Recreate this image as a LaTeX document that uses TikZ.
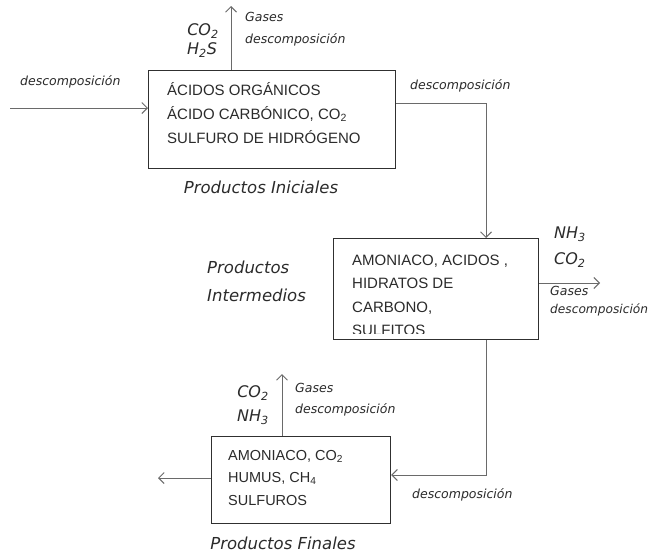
\documentclass[tikz,border=0pt]{standalone}
\usepackage{fontspec}
\setmainfont{Liberation Sans}
\newfontfamily\verd{DejaVu Sans}
\usetikzlibrary{arrows.meta}
\definecolor{txt}{HTML}{2B2B2B}
\definecolor{boxc}{HTML}{303030}
\definecolor{arrc}{HTML}{6A6A6A}
\begin{document}
\begin{tikzpicture}[x=1pt,y=-1pt,
  box/.style={draw=boxc, line width=1.2pt, inner sep=0pt, anchor=north west},
  boxtext/.style={anchor=base west, inner sep=0pt, text=txt, font=\fontsize{15}{18}\selectfont},
  arr/.style={draw=arrc, line width=1pt, -{Straight Barb[length=5.5pt,width=11pt,line width=1pt]}},
  small/.style={anchor=west, inner sep=0pt, text=txt, font=\verd\itshape\fontsize{12.5}{14}\selectfont},
  chem/.style={inner sep=0pt, text=txt, font=\verd\itshape\fontsize{16}{18}\selectfont},
  stage/.style={inner sep=0pt, text=txt, font=\verd\itshape\fontsize{16.5}{19}\selectfont}]
\useasboundingbox (0,0) rectangle (650,552);
\fill[white] (0,0) rectangle (650,552);

% boxes
\node[box, minimum width=247pt, minimum height=98pt] (b1) at (148,70) {};
\node[box, minimum width=205pt, minimum height=101pt] (b2) at (333,238) {};
\node[box, minimum width=179pt, minimum height=87pt] (b3) at (211,436) {};

% box 1 text
\node[boxtext] (b1a) at (167,95) {ÁCIDOS ORGÁNICOS};
\node[boxtext] (b1b) at (167,119) {ÁCIDO CARBÓNICO, CO\textsubscript{2}};
\node[boxtext] (b1c) at (167,143) {SULFURO DE HIDRÓGENO};

% box 2 text
\node[boxtext] (b2a) at (352,265) {AMONIACO, ACIDOS ,};
\node[boxtext] (b2b) at (352,288) {HIDRATOS DE};
\node[boxtext] (b2c) at (352,312) {CARBONO,};
\begin{scope}
  \clip (334,318) rectangle (537,333.5);
  \node[boxtext] (b2d) at (352,335.5) {SULFITOS};
\end{scope}

% box 3 text
\node[boxtext, font=\fontsize{14.5}{18}\selectfont] (b3a) at (228,460) {AMONIACO, CO\textsubscript{2}};
\node[boxtext, font=\fontsize{14.5}{18}\selectfont] (b3b) at (228,482) {HUMUS, CH\textsubscript{4}};
\node[boxtext, font=\fontsize{14.5}{18}\selectfont] (b3c) at (228,505) {SULFUROS};

% connectors
\coordinate (in0) at (10,108);
\draw[arr] (in0) -- (in0 -| b1.west);
\coordinate (up1) at (231,6);
\draw[arr] (up1 |- b1.north) -- (up1);
\coordinate (c1) at (486,103);
\draw[arr] (c1 -| b1.east) -- (c1) -- (c1 |- b2.north);
\coordinate (g2) at (600,283);
\draw[arr] (g2 -| b2.east) -- (g2);
\coordinate (c2) at (486,475);
\draw[arr] (c2 |- b2.south) -- (c2) -- (c2 -| b3.east);
\coordinate (up3) at (282,374);
\draw[arr] (up3 |- b3.north) -- (up3);
\coordinate (out3) at (158,478);
\draw[arr] (out3 -| b3.west) -- (out3);

% labels stage 1
\node[small] (l1) at (20,82) {descomposición};
\node[small] (g1a) at (245,17) {Gases};
\node[small] (g1b) at (245,40) {descomposición};
\node[chem] (co2a) at (203,31) {CO\textsubscript{2}};
\node[chem] (h2s) at (202,50) {H\textsubscript{2}S};
\node[stage] (pi) at (261,187) {Productos Iniciales};
\node[small] (l2) at (410,86) {descomposición};

% labels stage 2
\node[chem, anchor=west] (nh3b) at (554,234) {NH\textsubscript{3}};
\node[chem, anchor=west] (co2b) at (554,260) {CO\textsubscript{2}};
\node[small] (g2a) at (550,291) {Gases};
\node[small, font=\verd\itshape\fontsize{12.2}{14}\selectfont] (g2b) at (550,310) {descomposición};
\node[stage, anchor=west] (pm1) at (207,267) {Productos};
\node[stage, anchor=west] (pm2) at (207,295) {Intermedios};

% labels stage 3
\node[chem] (co2c) at (253,393) {CO\textsubscript{2}};
\node[chem] (nh3c) at (253,417) {NH\textsubscript{3}};
\node[small] (g3a) at (295,388) {Gases};
\node[small] (g3b) at (295,410) {descomposición};
\node[small] (l3) at (412,495) {descomposición};
\node[stage] (pf) at (283,543) {Productos Finales};
\end{tikzpicture}
\end{document}
